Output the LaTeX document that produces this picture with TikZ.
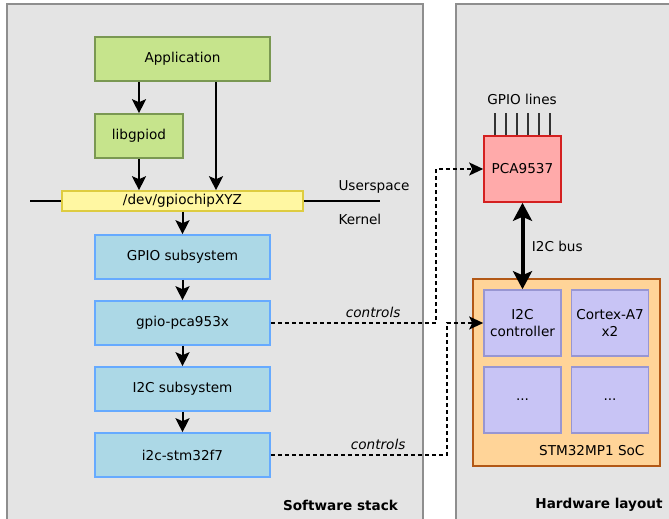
\documentclass[tikz,border=0pt]{standalone}
\usepackage{fontspec}
\setmainfont{DejaVu Sans}
\usetikzlibrary{arrows.meta, calc, positioning}
\definecolor{panelfill}{RGB}{228,228,228}
\definecolor{paneldraw}{RGB}{142,142,142}
\definecolor{userfill}{RGB}{198,228,140}
\definecolor{userdraw}{RGB}{122,152,82}
\definecolor{devfill}{RGB}{255,247,162}
\definecolor{devdraw}{RGB}{222,204,64}
\definecolor{kernfill}{RGB}{172,216,230}
\definecolor{kerndraw}{RGB}{102,170,255}
\definecolor{chipfill}{RGB}{255,170,170}
\definecolor{chipdraw}{RGB}{212,32,32}
\definecolor{socfill}{RGB}{255,212,152}
\definecolor{socdraw}{RGB}{178,88,22}
\definecolor{ipfill}{RGB}{200,196,245}
\definecolor{ipdraw}{RGB}{152,150,210}
\tikzset{
  panel/.style    = {draw=paneldraw, fill=panelfill, line width=2pt},
  blk/.style      = {draw, line width=1.6pt, inner sep=0pt, align=center,
                     minimum width=175pt, minimum height=44pt},
  userblk/.style  = {blk, draw=userdraw, fill=userfill},
  kernblk/.style  = {blk, draw=kerndraw, fill=kernfill},
  ipblk/.style    = {blk, draw=ipdraw, fill=ipfill, minimum width=77pt, minimum height=66pt},
  arr/.style      = {-{Stealth[length=14pt, width=14pt, inset=3pt]}, line width=2pt},
  ctrl/.style     = {-{Stealth[length=14pt, width=13pt, inset=3pt]}, line width=1.6pt,
                     dash pattern=on 4pt off 3pt},
  bus/.style      = {{Stealth[length=18pt, width=19pt, inset=4pt]}-{Stealth[length=18pt, width=19pt, inset=4pt]},
                     line width=4pt},
  pin/.style      = {line width=1.2pt, black!80},
  lbl/.style      = {font=\fontsize{13.6}{17}\selectfont},
  title/.style    = {font=\fontsize{13.6}{17}\selectfont\bfseries},
}
\begin{document}
\begin{tikzpicture}[x=1pt, y=-1pt, lbl]
  \useasboundingbox (0,0) rectangle (669,519);
  \clip (0,0) rectangle (669,519);
  \fill[white] (0,0) rectangle (669,519);
  \draw[panel] (7,4) rectangle (423,540);
  \draw[panel] (456,4) rectangle (690,540);
  \node[title] at (340.5,505) {Software stack};
  \node[title] at (599,505) {Hardware layout};

  \node[userblk] (app) at (182.5,59) {Application};
  \node[userblk, minimum width=88pt] (libgpiod) at (139,136) {libgpiod};
  \node[blk, draw=devdraw, fill=devfill, minimum width=241pt, minimum height=20pt] (dev) at (182.5,201) {/dev/gpiochipXYZ};
  \coordinate (kl) at (30,201);
  \coordinate (kr) at (380,201);
  \draw[line width=1.6pt] (kl) -- (dev.west);
  \draw[line width=1.6pt] (dev.east) -- (kr);
  \node[anchor=west] at (335,187) {Userspace};
  \node[anchor=west] at (335,219) {Kernel};

  \node[kernblk] (gpiosub) at (182.5,257) {GPIO subsystem};
  \node[kernblk] (drvgpio) at (182.5,323) {gpio-pca953x};
  \node[kernblk] (i2csub) at (182.5,389) {I2C subsystem};
  \node[kernblk] (drvi2c) at (182.5,455) {i2c-stm32f7};

  \draw[arr] (libgpiod |- app.south) -- (libgpiod.north);
  \draw[arr] (libgpiod.south) -- (libgpiod |- dev.north);
  \draw[arr] ([xshift=33.5pt]app.south) -- ([xshift=33.5pt]app.south |- dev.north);
  \draw[arr] (dev.south) -- (gpiosub.north);
  \draw[arr] (gpiosub) -- (drvgpio);
  \draw[arr] (drvgpio) -- (i2csub);
  \draw[arr] (i2csub) -- (drvi2c);

  \node[blk, draw=chipdraw, fill=chipfill, minimum width=77pt, minimum height=66pt] (pca) at (522.5,169) {PCA9537};
  \foreach \i in {0,...,5}
    \draw[pin] ([xshift=-27.5pt+11*\i pt]pca.north) -- ++(0,-22);
  \node at (522,99) {GPIO lines};

  \node[blk, draw=socdraw, fill=socfill, minimum width=187pt, minimum height=187pt] (soc) at (566.5,372.5) {};
  \node[ipblk] (i2cctl) at (522.5,323) {I2C\\controller};
  \node[ipblk] (cortex) at (610,323) {Cortex-A7\\x2};
  \node[ipblk] (ipa) at (522.5,400) {...};
  \node[ipblk] (ipb) at (610,400) {...};
  \node[anchor=east] at (648,451) {STM32MP1 SoC};

  \draw[bus] (pca.south) -- node[right=4pt] {I2C bus} (i2cctl.north);

  \draw[ctrl] (drvgpio.east) -- node[pos=0.62, above=1pt, font=\fontsize{13.6}{17}\selectfont\itshape] {controls} ++(165,0) |- (pca.west);
  \draw[ctrl] (drvi2c.east) -- node[pos=0.61, above=1pt, font=\fontsize{13.6}{17}\selectfont\itshape] {controls} ++(176,0) |- (i2cctl.west);
\end{tikzpicture}
\end{document}
